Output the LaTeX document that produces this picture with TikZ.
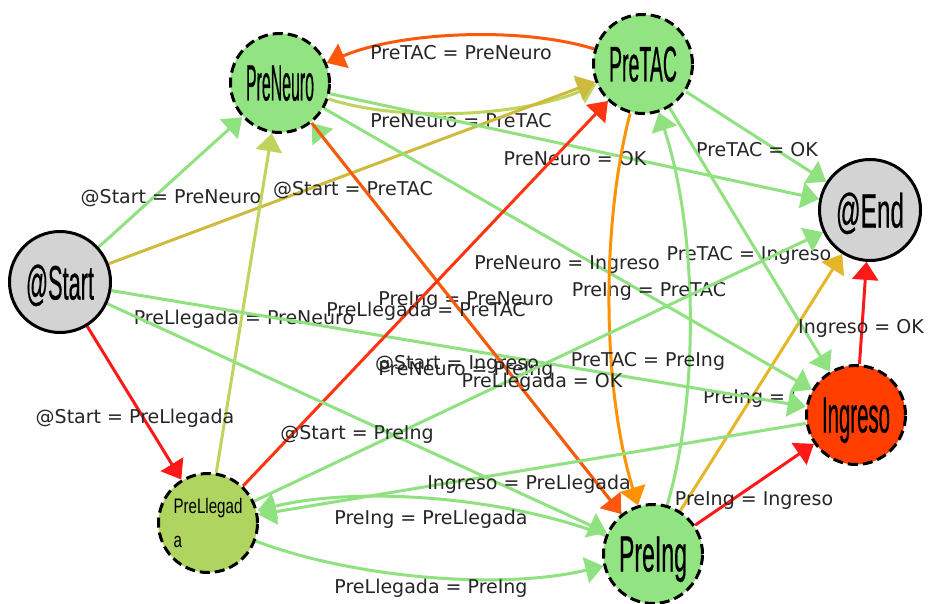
\documentclass[tikz,border=0pt]{standalone}
\usepackage{graphicx}
\usepackage{fontspec}
\setmainfont{DejaVu Sans}
\newfontfamily\nodefont[FakeBold=0.7]{Liberation Sans}
\newfontfamily\smallnodefont{Liberation Sans}
\usetikzlibrary{arrows.meta}

% edge colours
\definecolor{egreen}{RGB}{144,226,128}
\definecolor{eyg}{RGB}{190,212,92}
\definecolor{eolive}{RGB}{206,186,60}
\definecolor{egold}{RGB}{228,182,40}
\definecolor{ered}{RGB}{255,24,24}
\definecolor{eredor}{RGB}{255,52,16}
\definecolor{eorred}{RGB}{255,88,12}
\definecolor{eorange}{RGB}{255,146,0}
% node colours
\definecolor{nodegreen}{RGB}{146,227,130}
\definecolor{nodellegada}{RGB}{176,212,96}
\definecolor{nodeingreso}{RGB}{255,62,0}
\definecolor{nodegray}{RGB}{211,211,211}

% narrow, tall state names
\newcommand{\statetext}[1]{\raisebox{0pt}[35pt][0pt]{\resizebox{68pt}{35pt}{\nodefont\fontsize{40}{40}\selectfont #1}}}
\newcommand{\narrow}[1]{\scalebox{0.72}[1]{#1}}

\pgfdeclarelayer{bg}
\pgfdeclarelayer{edges}
\pgfsetlayers{bg,edges,main}

\tikzset{
  state/.style={circle, minimum size=99pt, inner sep=0pt, line width=3pt,
    draw=black, dash pattern=on 10pt off 5pt, fill=nodegreen},
  terminal/.style={circle, minimum size=101pt, inner sep=0pt, line width=3pt,
    draw=black, fill=nodegray},
  link/.style={line width=3pt, -{Triangle[length=18pt,width=26pt]}},
  elabel/.style={anchor=base, inner sep=0pt, text=black!85,
    font=\fontsize{19}{22}\selectfont},
}

\begin{document}
\begin{tikzpicture}[x=1pt,y=-1pt]
\begin{pgfonlayer}{bg}
\fill[white] (0,0) rectangle (928,604);
\end{pgfonlayer}
\useasboundingbox (0,0) rectangle (928,604);

% states
\node[terminal] (start) at (60,282) {\statetext{@Start}};
\node[terminal] (end) at (870,210) {\statetext{@End}};
\node[state] (preneuro) at (280,83) {\statetext{PreNeuro}};
\node[state] (pretac) at (643,64) {\statetext{PreTAC}};
\node[state] (preing) at (653,554) {\statetext{PreIng}};
\node[state, fill=nodeingreso] (ingreso) at (856,415) {\statetext{Ingreso}};
\node[state, fill=nodellegada, align=left,
  font=\smallnodefont\fontsize{21}{34}\selectfont] (llegada) at (208,523)
  {\narrow{PreLlegad}\\\narrow{a}};

\begin{pgfonlayer}{edges}
% transitions, each followed by its condition
\draw[link, eorred] (pretac) .. controls (520,26) and (399,32) .. (preneuro);
\node[elabel] (l1) at (461,60) {PreTAC = PreNeuro};

\draw[link, eyg] (preneuro) .. controls (402,123) and (523,116) .. (pretac);
\node[elabel] (l2) at (461,128) {PreNeuro = PreTAC};

\draw[link, egreen] (start) -- (preneuro);
\node[elabel] (l3) at (171,204) {@Start = PreNeuro};

\draw[link, eolive] (start) -- (pretac);
\node[elabel] (l4) at (353,195) {@Start = PreTAC};

\draw[link, eyg] (llegada) -- (preneuro);
\node[elabel] (l5) at (244,324) {PreLlegada = PreNeuro};

\draw[link, egreen] (preneuro) -- (end);
\node[elabel] (l6) at (575,166) {PreNeuro = OK};

\draw[link, egreen] (pretac) -- (end);
\node[elabel] (l7) at (757,157) {PreTAC = OK};

% its condition runs in under the arrowheads at Ingreso
\draw[link, egold] (preing) -- (end);
\begin{scope}
  \clip (0,0) rectangle (793,604);
  \node[elabel, anchor=base west] (l8) at (703,403) {PreIng = OK};
\end{scope}

\draw[link, egreen] (preneuro) -- (ingreso);
\node[elabel] (l9) at (567,269) {PreNeuro = Ingreso};

\draw[link, egreen] (start) -- (ingreso);
\node[elabel] (l10) at (457,369) {@Start = Ingreso};

\draw[link, egreen] (pretac) -- (ingreso);
\node[elabel] (l11) at (749,260) {PreTAC = Ingreso};

\draw[link, egreen] (preing) -- (preneuro);
\node[elabel] (l12) at (466,305) {PreIng = PreNeuro};

\draw[link, egreen] (preing) .. controls (700,392) and (697,229) .. (pretac);
\node[elabel] (l13) at (649,296) {PreIng = PreTAC};

\draw[link, eorred] (preneuro) -- (preing);
\node[elabel] (l14) at (466,375) {PreNeuro = PreIng};

\draw[link, eorange] (pretac) .. controls (600,229) and (603,392) .. (preing);
\node[elabel] (l15) at (648,366) {PreTAC = PreIng};

\draw[link, eredor] (llegada) -- (pretac);
\node[elabel] (l16) at (426,316) {PreLlegada = PreTAC};

\draw[link, egreen] (llegada) -- (end);
\node[elabel] (l17) at (542,387) {PreLlegada = OK};

\draw[link, egreen] (start) -- (preing);
\node[elabel] (l18) at (357,439) {@Start = PreIng};

\draw[link, ered] (start) -- (llegada);
\node[elabel] (l19) at (135,423) {@Start = PreLlegada};

\draw[link, egreen] (ingreso) -- (llegada);
\node[elabel] (l20) at (529,489) {Ingreso = PreLlegada};

\draw[link, egreen] (preing) .. controls (504,496) and (356,486) .. (llegada);
\node[elabel] (l21) at (431,524) {PreIng = PreLlegada};

\draw[link, egreen] (llegada) .. controls (356,579) and (504,590) .. (preing);
\node[elabel] (l22) at (431,593) {PreLlegada = PreIng};

\draw[link, ered] (preing) -- (ingreso);
\node[elabel] (l23) at (754,505) {PreIng = Ingreso};

\draw[link, ered] (ingreso) -- (end);
\node[elabel] (l24) at (861,333) {Ingreso = OK};
\end{pgfonlayer}
\end{tikzpicture}
\end{document}
